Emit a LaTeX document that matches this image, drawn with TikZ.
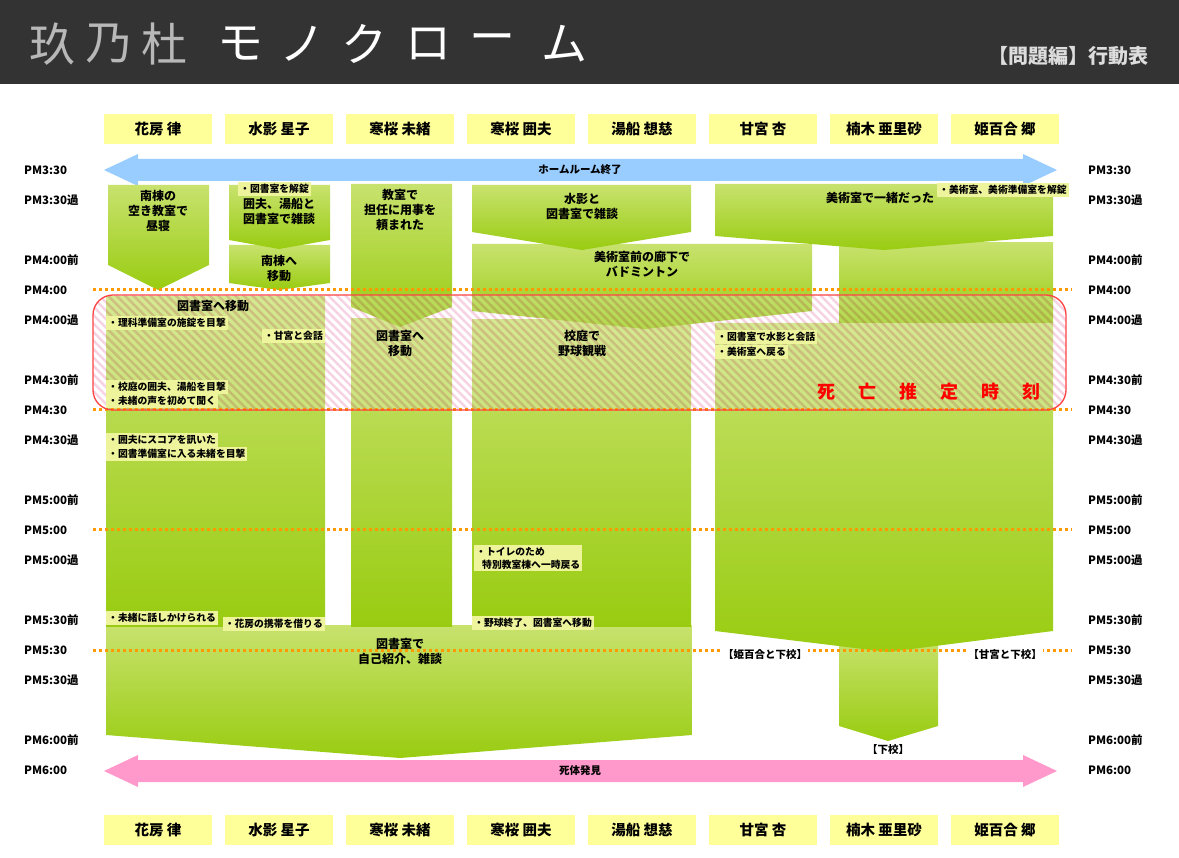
\documentclass[tikz,border=0pt]{standalone}
\usepackage{fontspec}
\newfontfamily\jp{Noto Sans CJK JP}
\usepackage{tikz}
\usetikzlibrary{patterns.meta}
\definecolor{mkhead}{HTML}{333333}
\definecolor{mkgray}{HTML}{B8B8B8}
\definecolor{mksub}{HTML}{DDDDDD}
\definecolor{mkname}{HTML}{FFFF99}
\definecolor{mkblue}{HTML}{99CCFF}
\definecolor{mkpink}{HTML}{FF99CC}
\definecolor{mktop}{HTML}{C8E26E}
\definecolor{mkbot}{HTML}{99CC11}
\definecolor{mknote}{HTML}{EEF49C}
\definecolor{mkorange}{HTML}{FF9900}
\definecolor{mkred}{HTML}{FF4444}
\definecolor{mkstripe}{HTML}{F7D4E4}

\begin{document}
\begin{tikzpicture}[x=1pt,y=-1pt,
  namebox/.style={fill=mkname,minimum width=108pt,minimum height=30pt,inner sep=0pt,
    font=\jp\bfseries\fontsize{14.5}{16}\selectfont},
  tlab/.style={anchor=west,inner sep=0pt,font=\jp\bfseries\fontsize{11.5}{13}\selectfont},
  blab/.style={align=center,anchor=north,inner sep=0pt,font=\jp\bfseries\fontsize{12}{15}\selectfont},
  note/.style={anchor=west,fill=mknote,inner sep=2pt,align=left,
    font=\jp\bfseries\fontsize{9.8}{13}\selectfont},
  leave/.style={fill=white,inner sep=1pt,font=\jp\bfseries\fontsize{10.5}{12}\selectfont},
  blk/.style={top color=mktop,bottom color=mkbot},
  dots/.style={mkorange,line width=3pt,dash pattern=on 3pt off 3pt},
  ttl/.style={font=\jp\fontsize{46}{46}\selectfont,inner sep=0pt}]
\useasboundingbox (0,0) rectangle (1179,858);
\fill[white] (0,0) rectangle (1179,858);

% header
\fill[mkhead] (0,0) rectangle (1179,84);
\foreach \x/\c in {52/玖,108/乃,164/杜}
  \node[ttl,text=mkgray] at (\x,44) {\c};
\foreach \x/\c in {240/モ,302/ノ,364/ク,428/ロ,492/ー,564/ム}
  \node[ttl,text=white] at (\x,44) {\c};
\node[anchor=east,text=mksub,font=\jp\bfseries\fontsize{20}{22}\selectfont] (sub) at (1152,56) {【問題編】行動表};

% names
\foreach \i/\n in {1/花房 律,2/水影 星子,3/寒桜 未緒,4/寒桜 囲夫,5/湯船 想慈,6/甘宮 杏,7/楠木 亜里砂,8/姫百合 郷}{
  \node[namebox] (top\i) at ({158+121*(\i-1)},129) {\n};
  \node[namebox] (bot\i) at ({158+121*(\i-1)},830) {\n};
}

% arrows
\fill[mkblue] (104,170) -- (138,154) -- (138,159) -- (1023,159) -- (1023,154) -- (1057,170)
  -- (1023,186) -- (1023,181) -- (138,181) -- (138,186) -- cycle;
\fill[mkpink] (104,771) -- (138,755) -- (138,760) -- (1023,760) -- (1023,755) -- (1057,771)
  -- (1023,787) -- (1023,782) -- (138,782) -- (138,787) -- cycle;

% blocks, later ones first
\shade[blk] (106,625) -- (692,625) -- (692,735) -- (400,758) -- (106,735) -- cycle;
\shade[blk] (839,636) -- (938,636) -- (938,726) -- (888,741) -- (839,726) -- cycle;
\shade[blk] (106,297) -- (325,297) -- (325,626) -- (106,626) -- cycle;
\shade[blk] (351,319) -- (452,319) -- (452,626) -- (351,626) -- cycle;
\shade[blk] (472,320) -- (691,320) -- (691,626) -- (472,626) -- cycle;
\shade[blk] (715,323) -- (1053,323) -- (1053,631) -- (888,652) -- (715,631) -- cycle;
\shade[blk] (839,243) -- (1053,243) -- (1053,323) -- (839,323) -- cycle;
\shade[blk] (472,244) -- (812,244) -- (812,311) -- (645,329) -- (472,311) -- cycle;
\shade[blk] (229,245) -- (330,245) -- (330,283) -- (279,290) -- (229,283) -- cycle;
\shade[blk] (108,185) -- (209,185) -- (209,265) -- (158,290) -- (108,265) -- cycle;
\shade[blk] (229,185) -- (330,185) -- (330,240) -- (279,249) -- (229,240) -- cycle;
\shade[blk] (351,184) -- (452,184) -- (452,307) -- (400,327) -- (351,307) -- cycle;
\shade[blk] (472,185) -- (691,185) -- (691,232) -- (582,250) -- (472,232) -- cycle;
\shade[blk] (715,184) -- (1053,184) -- (1053,236) -- (884,250) -- (715,236) -- cycle;

% death window
\fill[white,fill opacity=0.25,rounded corners=20pt] (93,295) rectangle (1066,410);
\begin{scope}[blend mode=multiply]
\fill[pattern={Lines[angle=-45,distance=6pt,line width=2.5pt]},pattern color=mkstripe,
  rounded corners=20pt] (93,295) rectangle (1066,410);
\end{scope}

% time lines
\foreach \y in {290,410,530,650}
  \draw[dots] (93,\y) -- (1072,\y);
\draw[mkred,line width=1.3pt,rounded corners=20pt] (93,295) rectangle (1066,410);

% labels on blocks
\node (hr) at (580,170) [font=\jp\bfseries\fontsize{10.5}{12}\selectfont] {ホームルーム終了};
\node (found) at (580,771) [font=\jp\bfseries\fontsize{10.5}{12}\selectfont] {死体発見};
\node[blab] (b1) at (158,190) {南棟の\\空き教室で\\昼寝};
\node[blab] (b2) at (279,198) {囲夫、湯船と\\図書室で雑談};
\node[blab] (b2b) at (279,255) {南棟へ\\移動};
\node[blab] (b3) at (400,189) {教室で\\担任に用事を\\頼まれた};
\node[blab] (b4) at (582,193) {水影と\\図書室で雑談};
\node[blab] (b4b) at (642,251) {美術室前の廊下で\\バドミントン};
\node[blab] (b6) at (880,192) {美術室で一緒だった};
\node[blab] (b12) at (213,300) {図書室へ移動};
\node[blab] (b3b) at (400,330) {図書室へ\\移動};
\node[blab] (b4c) at (582,330) {校庭で\\野球観戦};
\node[blab] (big) at (400,638) {図書室で\\自己紹介、雑談};
\node[text=red,font=\jp\bfseries\fontsize{18}{20}\selectfont] (death) at (929,392)
  {死\hskip23pt 亡\hskip23pt 推\hskip23pt 定\hskip23pt 時\hskip23pt 刻};

% notes
\node[note] (n1) at (238,189) {・図書室を解錠};
\node[note] (n2) at (937,190) {・美術室、美術準備室を解錠};
\node[note] (n3) at (106,323) {・理科準備室の施錠を目撃};
\node[note,anchor=east] (n4) at (325,336) {・甘宮と会話};
\node[note] (n5) at (106,387) {・校庭の囲夫、湯船を目撃};
\node[note] (n6) at (106,401) {・未緒の声を初めて聞く};
\node[note] (n7) at (106,440) {・囲夫にスコアを訊いた};
\node[note] (n8) at (106,454) {・図書準備室に入る未緒を目撃};
\node[note] (n9) at (715,337) {・図書室で水影と会話};
\node[note] (n10) at (715,352) {・美術室へ戻る};
\node[note] (n11) at (474,558) {・トイレのため\\\hskip6pt 特別教室棟へ一時戻る};
\node[note] (n12) at (106,618) {・未緒に話しかけられる};
\node[note,anchor=east] (n13) at (325,624) {・花房の携帯を借りる};
\node[note] (n14) at (472,623) {・野球終了、図書室へ移動};
\node[leave] (l1) at (765,655) {【姫百合と下校】};
\node[leave] (l2) at (1005,655) {【甘宮と下校】};
\node[leave] (l3) at (888,750) {【下校】};

% time labels
\foreach \k/\t in {0/PM3:30,1/PM3:30過,3/PM4:00前,4/PM4:00,5/PM4:00過,7/PM4:30前,8/PM4:30,
    9/PM4:30過,11/PM5:00前,12/PM5:00,13/PM5:00過,15/PM5:30前,16/PM5:30,17/PM5:30過,
    19/PM6:00前,20/PM6:00}{
  \node[tlab] (tl\k) at (24,{170+30*\k}) {\t};
  \node[tlab] (tr\k) at (1088,{170+30*\k}) {\t};
}
\end{tikzpicture}
\end{document}
